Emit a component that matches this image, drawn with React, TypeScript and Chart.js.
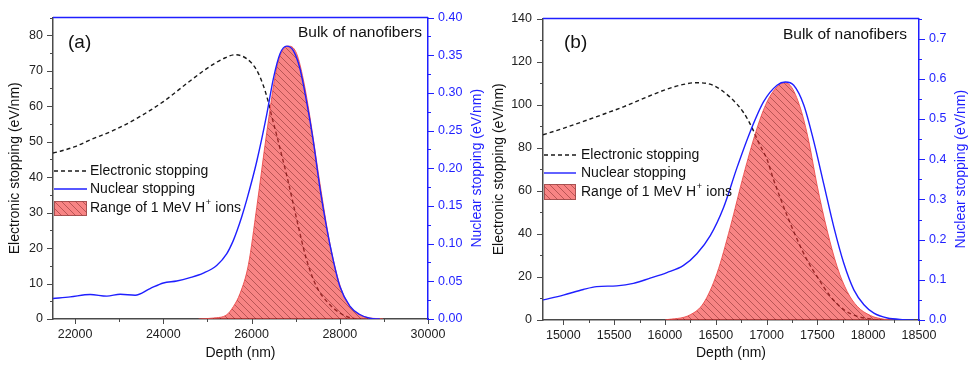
import React, { useEffect, useRef } from 'react';
import { Chart, registerables } from 'chart.js';

Chart.register(...registerables);
Chart.defaults.font.family = "'Liberation Sans', Arial, sans-serif";

// ---------------- Panel (a) data ----------------
const ELEC_A_DEPTH = [21500, 21665, 22000, 22344, 22948, 23475, 24002, 24532, 24984, 25360, 25624, 25889, 26115, 26265, 26378, 26455, 26568, 26681, 26794, 26950, 27100, 27250, 27475, 27740, 28000, 28230, 28400];
const ELEC_A = [46.8, 47.3, 48.6, 50.5, 53.6, 57.1, 61.3, 66.4, 70.6, 73.4, 74.5, 73.4, 70.2, 65.9, 61.3, 57.3, 51.9, 46.3, 40.7, 32.2, 24.0, 16.6, 9.1, 4.5, 1.7, 0.4, 0];

const NUC_A_DEPTH = [21500, 21891, 22344, 22721, 23023, 23362, 23701, 24002, 24305, 24606, 24907, 25210, 25436, 25586, 25665, 25780, 25891, 26118, 26344, 26495, 26646, 26796, 26947, 27098, 27249, 27400, 27550, 27700, 27852, 28003, 28229, 28455, 28681, 28907];
const NUC_A = [0.0272, 0.0294, 0.0325, 0.0303, 0.0329, 0.0316, 0.0404, 0.0478, 0.0504, 0.0549, 0.0609, 0.0711, 0.0864, 0.104, 0.116, 0.136, 0.158, 0.209, 0.271, 0.319, 0.352, 0.362, 0.356, 0.332, 0.288, 0.236, 0.174, 0.122, 0.078, 0.043, 0.017, 0.006, 0.001, 0];

const RANGE_A_DEPTH = [24800, 25137, 25439, 25590, 25741, 25929, 26118, 26344, 26570, 26721, 26857, 27023, 27173, 27324, 27550, 27777, 28003, 28229, 28531, 28983];
const RANGE_A = [0, 0.0013, 0.0057, 0.0166, 0.034, 0.072, 0.148, 0.247, 0.333, 0.358, 0.362, 0.352, 0.318, 0.268, 0.18, 0.1, 0.045, 0.017, 0.0035, 0];

const X_TICKS_A = [22000, 24000, 26000, 28000, 30000];
const YL_TICKS_A = [0, 10, 20, 30, 40, 50, 60, 70, 80];
const YR_TICKS_A = [0, 0.05, 0.1, 0.15, 0.2, 0.25, 0.3, 0.35, 0.4];

// ---------------- Panel (b) data ----------------
const ELEC_B_DEPTH = [14800, 15000, 15197, 15421, 15592, 15750, 15986, 16183, 16309, 16472, 16637, 16768, 16867, 16916, 16970, 17005, 17070, 17136, 17202, 17300, 17399, 17498, 17629, 17760, 17892, 18023, 18150];
const ELEC_B = [86.0, 89.0, 92.2, 96.0, 99.0, 102.1, 106.6, 109.4, 110.2, 109.0, 103.6, 96.7, 88.3, 82.9, 78.0, 74.5, 65.0, 56.5, 48.5, 37.5, 27.8, 20.1, 10.9, 4.8, 1.7, 0.5, 0];

const NUC_B_DEPTH = [14800, 15000, 15197, 15329, 15526, 15690, 15854, 16019, 16183, 16314, 16446, 16577, 16709, 16840, 16971, 17103, 17185, 17267, 17366, 17464, 17563, 17662, 17760, 17859, 17958, 18056, 18188, 18353, 18450];
const NUC_B = [0.05, 0.062, 0.076, 0.083, 0.085, 0.091, 0.104, 0.118, 0.136, 0.165, 0.21, 0.28, 0.379, 0.469, 0.543, 0.584, 0.592, 0.584, 0.535, 0.445, 0.338, 0.231, 0.141, 0.075, 0.038, 0.017, 0.005, 0.001, 0];

const RANGE_B_DEPTH = [16002, 16249, 16380, 16512, 16643, 16775, 16906, 17005, 17103, 17169, 17235, 17333, 17415, 17498, 17596, 17695, 17793, 17892, 18023, 18155, 18253];
const RANGE_B = [0, 0.013, 0.042, 0.116, 0.231, 0.362, 0.477, 0.543, 0.58, 0.59, 0.583, 0.527, 0.445, 0.334, 0.223, 0.132, 0.071, 0.034, 0.011, 0.002, 0];

const X_TICKS_B = [15000, 15500, 16000, 16500, 17000, 17500, 18000, 18500];
const YL_TICKS_B = [0, 20, 40, 60, 80, 100, 120, 140];
const YR_TICKS_B = [0, 0.1, 0.2, 0.3, 0.4, 0.5, 0.6, 0.7];

// ---------------- Texts ----------------
const X_TITLE = 'Depth (nm)';
const YL_TITLE = 'Electronic stopping (eV/nm)';
const YR_TITLE = 'Nuclear stopping (eV/nm)';
const LEGEND_LABELS = ['Electronic stopping', 'Nuclear stopping', 'Range of 1 MeV H', '+', ' ions'];
const NOTE = 'Bulk of nanofibers';

const BLUE = '#1f1fff';
const AXIS_GRAY = '#4a4a4a';
const FONT = "'Liberation Sans', Arial, sans-serif";

function zip(xs: number[], ys: number[]) {
  return xs.map((x, i) => ({ x, y: ys[i] }));
}

function makePattern(): CanvasPattern | string {
  const c = document.createElement('canvas');
  const s = 7;
  c.width = s;
  c.height = s;
  const g = c.getContext('2d')!;
  g.fillStyle = 'rgba(243,50,50,0.6)';
  g.fillRect(0, 0, s, s);
  g.strokeStyle = 'rgba(70,0,0,0.45)';
  g.lineWidth = 0.8;
  g.beginPath();
  g.moveTo(-1, -1);
  g.lineTo(s + 1, s + 1);
  g.moveTo(-1, s - 1);
  g.lineTo(1, s + 1);
  g.moveTo(s - 1, -1);
  g.lineTo(s + 1, 1);
  g.stroke();
  const p = g.createPattern(c, 'repeat');
  return p || 'rgba(243,50,50,0.6)';
}

interface PanelSpec {
  tag: string;
  elX: number[]; elY: number[];
  nuX: number[]; nuY: number[];
  rgX: number[]; rgY: number[];
  xMin: number; xMax: number; xTicks: number[]; xMinor: number;
  ylMax: number; ylTicks: number[]; ylMinor: number;
  yrMax: number; yrTicks: number[]; yrMinor: number; yrDigits: number;
  padTop: number; leftW: number; rightW: number; xH: number;
  ylPad: number; yrPad: number; yrTitleX: number;
  tagX: number; tagY: number; noteRight: number; noteY: number;
  lgX0: number; lgX1: number; lgTextX: number; lgY1: number; lgY2: number; lgBoxTop: number; lgBoxBottom: number; lgY3: number;
}

const SPEC_A: PanelSpec = {
  tag: '(a)',
  elX: ELEC_A_DEPTH, elY: ELEC_A, nuX: NUC_A_DEPTH, nuY: NUC_A, rgX: RANGE_A_DEPTH, rgY: RANGE_A,
  xMin: 21500, xMax: 30000, xTicks: X_TICKS_A, xMinor: 1000,
  ylMax: 85, ylTicks: YL_TICKS_A, ylMinor: 5,
  yrMax: 0.4, yrTicks: YR_TICKS_A, yrMinor: 0.025, yrDigits: 2,
  padTop: 15, leftW: 53, rightW: 56, xH: 47, ylPad: 10, yrPad: 10, yrTitleX: 477,
  tagX: 68, tagY: 43, noteRight: 422, noteY: 33,
  lgX0: 54, lgX1: 87, lgTextX: 90, lgY1: 171, lgY2: 189, lgBoxTop: 201, lgBoxBottom: 216, lgY3: 208,
};

const SPEC_B: PanelSpec = {
  tag: '(b)',
  elX: ELEC_B_DEPTH, elY: ELEC_B, nuX: NUC_B_DEPTH, nuY: NUC_B, rgX: RANGE_B_DEPTH, rgY: RANGE_B,
  xMin: 14800, xMax: 18500, xTicks: X_TICKS_B, xMinor: 250,
  ylMax: 140, ylTicks: YL_TICKS_B, ylMinor: 10,
  yrMax: 0.75, yrTicks: YR_TICKS_B, yrMinor: 0.05, yrDigits: 1,
  padTop: 16, leftW: 59, rightW: 49, xH: 46, ylPad: 11, yrPad: 10, yrTitleX: 477,
  tagX: 80, tagY: 43, noteRight: 423, noteY: 35,
  lgX0: 60, lgX1: 92, lgTextX: 97, lgY1: 155, lgY2: 173, lgBoxTop: 184, lgBoxBottom: 200, lgY3: 192,
};

function line(ctx: CanvasRenderingContext2D, x0: number, y0: number, x1: number, y1: number) {
  ctx.beginPath();
  ctx.moveTo(x0, y0);
  ctx.lineTo(x1, y1);
  ctx.stroke();
}

function buildConfig(p: PanelSpec): any {
  const pattern = makePattern();

  const decor = {
    id: 'decor',
    afterDraw(chart: any) {
      const ctx: CanvasRenderingContext2D = chart.ctx;
      const ca = chart.chartArea;
      const xs = chart.scales.x;
      const yl = chart.scales.yL;
      const yr = chart.scales.yR;
      ctx.save();
      // top frame (blue)
      ctx.strokeStyle = BLUE;
      ctx.lineWidth = 1.5;
      line(ctx, ca.left, ca.top, ca.right, ca.top);

      const isMajor = (v: number, list: number[], step: number) => list.some((t) => Math.abs(t - v) < step * 1e-3);
      // x ticks
      ctx.strokeStyle = AXIS_GRAY;
      ctx.lineWidth = 1;
      for (let n = Math.ceil(p.xMin / p.xMinor - 1e-9); n * p.xMinor <= p.xMax + 1e-9; n++) {
        const v = n * p.xMinor;
        const px = Math.round(xs.getPixelForValue(v)) + 0.5;
        const len = isMajor(v, p.xTicks, p.xMinor) ? 5 : 3;
        line(ctx, px, ca.bottom, px, ca.bottom + len);
      }
      // left ticks
      for (let n = 0; n * p.ylMinor <= p.ylMax + 1e-9; n++) {
        const v = n * p.ylMinor;
        const py = Math.round(yl.getPixelForValue(v)) + 0.5;
        const len = isMajor(v, p.ylTicks, p.ylMinor) ? 6 : 3;
        line(ctx, ca.left - len, py, ca.left, py);
      }
      // right ticks
      ctx.strokeStyle = BLUE;
      for (let n = 0; n * p.yrMinor <= p.yrMax + 1e-9; n++) {
        const v = n * p.yrMinor;
        const py = Math.round(yr.getPixelForValue(v)) + 0.5;
        const len = isMajor(v, p.yrTicks, p.yrMinor) ? 6 : 3;
        line(ctx, ca.right, py, ca.right + len, py);
      }

      // right axis title (reads bottom to top)
      ctx.save();
      ctx.translate(p.yrTitleX, (ca.top + ca.bottom) / 2);
      ctx.rotate(-Math.PI / 2);
      ctx.fillStyle = BLUE;
      ctx.font = `14px ${FONT}`;
      ctx.textAlign = 'center';
      ctx.textBaseline = 'middle';
      ctx.fillText(YR_TITLE, 0, 0);
      ctx.restore();

      // panel tag
      ctx.fillStyle = '#111';
      ctx.textBaseline = 'middle';
      ctx.textAlign = 'left';
      ctx.font = `19px ${FONT}`;
      ctx.fillText(p.tag, p.tagX, p.tagY);
      // note
      ctx.font = `15.5px ${FONT}`;
      ctx.textAlign = 'right';
      ctx.fillText(NOTE, p.noteRight, p.noteY);

      // legend
      ctx.textAlign = 'left';
      ctx.lineWidth = 1.6;
      ctx.strokeStyle = '#1a1a1a';
      ctx.setLineDash([4, 3]);
      line(ctx, p.lgX0, p.lgY1, p.lgX1, p.lgY1);
      ctx.setLineDash([]);
      ctx.strokeStyle = BLUE;
      ctx.lineWidth = 1.4;
      line(ctx, p.lgX0, p.lgY2, p.lgX1, p.lgY2);
      ctx.fillStyle = pattern as any;
      ctx.fillRect(p.lgX0, p.lgBoxTop, p.lgX1 - p.lgX0, p.lgBoxBottom - p.lgBoxTop);
      ctx.strokeStyle = 'rgba(150,70,70,0.8)';
      ctx.lineWidth = 1;
      ctx.strokeRect(p.lgX0 + 0.5, p.lgBoxTop + 0.5, p.lgX1 - p.lgX0 - 1, p.lgBoxBottom - p.lgBoxTop - 1);

      ctx.fillStyle = '#111';
      ctx.font = `14px ${FONT}`;
      ctx.fillText(LEGEND_LABELS[0], p.lgTextX, p.lgY1);
      ctx.fillText(LEGEND_LABELS[1], p.lgTextX, p.lgY2);
      ctx.fillText(LEGEND_LABELS[2], p.lgTextX, p.lgY3);
      const w = ctx.measureText(LEGEND_LABELS[2]).width;
      ctx.font = `9px ${FONT}`;
      ctx.fillText(LEGEND_LABELS[3], p.lgTextX + w + 0.5, p.lgY3 - 5);
      const w2 = ctx.measureText(LEGEND_LABELS[3]).width;
      ctx.font = `14px ${FONT}`;
      ctx.fillText(LEGEND_LABELS[4], p.lgTextX + w + w2 + 1, p.lgY3);
      ctx.restore();
    },
  };

  return {
    type: 'line',
    data: {
      datasets: [
        {
          label: 'Nuclear stopping',
          data: zip(p.nuX, p.nuY),
          yAxisID: 'yR',
          borderColor: BLUE,
          borderWidth: 1.4,
          pointRadius: 0,
          fill: false,
          cubicInterpolationMode: 'monotone',
          order: 1,
        },
        {
          label: 'Range of 1 MeV H+ ions',
          data: zip(p.rgX, p.rgY),
          yAxisID: 'yR',
          borderColor: 'rgba(235,70,70,0.85)',
          borderWidth: 1,
          backgroundColor: pattern,
          fill: 'origin',
          pointRadius: 0,
          cubicInterpolationMode: 'monotone',
          order: 2,
        },
        {
          label: 'Electronic stopping',
          data: zip(p.elX, p.elY),
          yAxisID: 'yL',
          borderColor: '#1a1a1a',
          borderDash: [4, 3],
          borderWidth: 1.4,
          pointRadius: 0,
          fill: false,
          cubicInterpolationMode: 'monotone',
          order: 3,
        },
      ],
    },
    options: {
      animation: false,
      responsive: false,
      events: [],
      layout: { padding: { top: p.padTop, left: 0, right: 0, bottom: 0 } },
      plugins: { legend: { display: false }, tooltip: { enabled: false } },
      scales: {
        x: {
          type: 'linear',
          min: p.xMin,
          max: p.xMax,
          afterBuildTicks: (s: any) => { s.ticks = p.xTicks.map((v) => ({ value: v })); },
          afterFit: (s: any) => { s.height = p.xH; },
          ticks: { callback: (v: any) => String(v), autoSkip: false, maxRotation: 0, padding: 8, color: '#222', font: { size: 12.5 } },
          grid: { display: false, drawTicks: false },
          border: { display: true, color: AXIS_GRAY, width: 1.5 },
          title: { display: true, text: X_TITLE, color: '#111', font: { size: 14, lineHeight: 1 }, padding: { top: 0, bottom: 6 } },
        },
        yL: {
          type: 'linear',
          position: 'left',
          min: 0,
          max: p.ylMax,
          afterBuildTicks: (s: any) => { s.ticks = p.ylTicks.map((v) => ({ value: v })); },
          afterFit: (s: any) => { s.width = p.leftW; },
          ticks: { callback: (v: any) => String(v), autoSkip: false, padding: p.ylPad, color: '#222', font: { size: 12.5 } },
          grid: { display: false, drawTicks: false },
          border: { display: true, color: AXIS_GRAY, width: 1.5 },
          title: { display: true, text: YL_TITLE, color: '#111', font: { size: 14, lineHeight: 1 }, padding: { top: 8, bottom: 0 } },
        },
        yR: {
          type: 'linear',
          position: 'right',
          min: 0,
          max: p.yrMax,
          afterBuildTicks: (s: any) => { s.ticks = p.yrTicks.map((v) => ({ value: v })); },
          afterFit: (s: any) => { s.width = p.rightW; },
          ticks: { callback: (v: any) => Number(v).toFixed(p.yrDigits), autoSkip: false, padding: p.yrPad, color: BLUE, font: { size: 12.5 } },
          grid: { display: false, drawTicks: false },
          border: { display: true, color: BLUE, width: 1.5 },
          title: { display: false },
        },
      },
    },
    plugins: [decor],
  };
}

function Panel({ spec, left }: { spec: PanelSpec; left: number }) {
  const ref = useRef<HTMLCanvasElement>(null);
  useEffect(() => {
    const chart = new Chart(ref.current as HTMLCanvasElement, buildConfig(spec));
    return () => chart.destroy();
  }, [spec]);
  return (
    <canvas
      ref={ref}
      width={484}
      height={366}
      style={{ position: 'absolute', left, top: 0, width: 484, height: 366, display: 'block' }}
    />
  );
}

export default function App() {
  return (
    <div style={{ position: 'fixed', left: 0, top: 0, width: 968, height: 366, background: '#fff', overflow: 'hidden' }}>
      <Panel spec={SPEC_A} left={0} />
      <Panel spec={SPEC_B} left={484} />
    </div>
  );
}
